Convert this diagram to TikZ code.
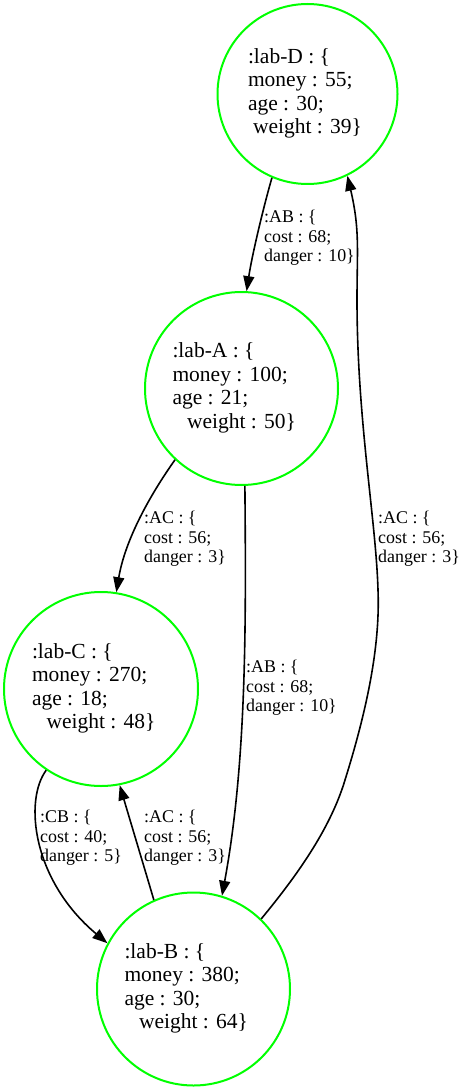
\documentclass[tikz,border=0pt]{standalone}
\usepackage{fontspec}
\setmainfont{Liberation Serif}
\usetikzlibrary{arrows.meta}
\definecolor{vgreen}{RGB}{0,255,0}
\newcommand{\statelabel}[5]{\begin{tabular}{@{}p{#1}@{}}#2\\#3\\#4\\\multicolumn{1}{@{}c@{}}{#5}\end{tabular}}
\begin{document}
\begin{tikzpicture}[x=1pt,y=-1pt,
  state/.style={circle, draw=vgreen, line width=2pt, inner sep=0pt, font=\fontsize{21.5}{23.5}\selectfont},
  elabel/.style={anchor=west, align=left, inner sep=0pt, font=\fontsize{17.9}{19.7}\selectfont},
  edge/.style={line width=1.6pt, -{Triangle[length=15pt,width=11pt]}}]
\useasboundingbox (0,0) rectangle (465,1091);
\node[state, minimum size=180pt] (D) at (307.5,94) {\statelabel{119pt}{:lab-D : \{}{money : 55;}{age : 30;}{weight : 39\}}};
\node[state, minimum size=193pt] (A) at (241.5,388.5) {\statelabel{138pt}{:lab-A : \{}{money : 100;}{age : 21;}{weight : 50\}}};
\node[state, minimum size=194pt] (C) at (101,689) {\statelabel{138pt}{:lab-C : \{}{money : 270;}{age : 18;}{weight : 48\}}};
\node[state, minimum size=193pt] (B) at (193.5,989) {\statelabel{138pt}{:lab-B : \{}{money : 380;}{age : 30;}{weight : 64\}}};

\draw[edge] (D.-113) .. controls (264,205) and (252,255) .. (A.87);
\draw[edge] (B.46) .. controls (295,878) and (330,830) .. (345,780) .. controls (370,700) and (380,640) .. (378,590) .. controls (376,520) and (357,420) .. (357,300) .. controls (357,250) and (360,230) .. (D.-64);
\draw[edge] (A.-133) .. controls (150,495) and (125,540) .. (C.81);
\draw[edge] (A.-88) .. controls (246,620) and (247,760) .. (B.73);
\draw[edge] (C.-124) .. controls (24,800) and (32,880) .. (B.152);
\draw[edge] (B.114) .. controls (145,870) and (130,820) .. (C.-79);

\node[elabel] (lDA) at (264,238) {:AB : \{\\cost : 68;\\danger : 10\}};
\node[elabel] (lBD) at (378,539) {:AC : \{\\cost : 56;\\danger : 3\}};
\node[elabel] (lAC) at (144,539) {:AC : \{\\cost : 56;\\danger : 3\}};
\node[elabel] (lAB) at (246,688) {:AB : \{\\cost : 68;\\danger : 10\}};
\node[elabel] (lCB) at (40,838) {:CB : \{\\cost : 40;\\danger : 5\}};
\node[elabel] (lBC) at (144,838) {:AC : \{\\cost : 56;\\danger : 3\}};
\end{tikzpicture}
\end{document}
